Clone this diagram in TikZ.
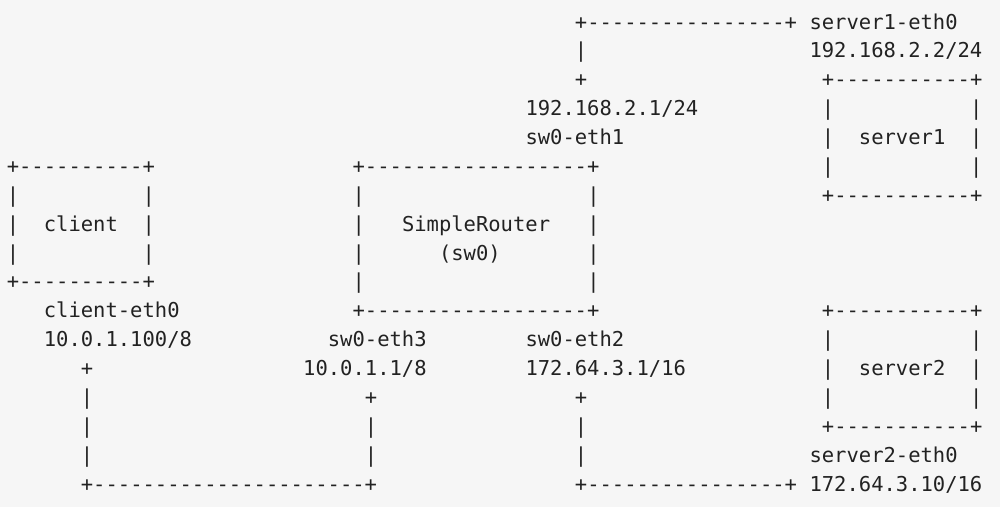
\documentclass[tikz,border=0pt]{standalone}
\usepackage{fontspec}
\setmonofont{DejaVu Sans Mono}
\definecolor{bg}{HTML}{F6F6F6}
\definecolor{ink}{HTML}{222222}
\tikzset{
  asc/.style={anchor=base west, inner sep=0pt, outer sep=0pt, text=ink,
              font=\ttfamily\fontsize{20.5pt}{24pt}\selectfont}
}
\begin{document}
\begin{tikzpicture}[x=12.35pt,y=-28.875pt]
\useasboundingbox[fill=bg] (-6.8pt,29pt) rectangle (993.2pt,-478pt);
% row 0
\node[asc] (l1top) at (46,0) {+----------------+};
\node[asc] (s1eth) at (65,0) {server1-eth0};
% row 1
\node[asc] (l1v) at (46,1) {|};
\node[asc] (s1ip) at (65,1) {192.168.2.2/24};
% row 2
\node[asc] (l1p) at (46,2) {+};
\node[asc] (s1t) at (66,2) {+-----------+};
% row 3
\node[asc] (e1ip) at (42,3) {192.168.2.1/24};
\node[asc] (s1a) at (66,3) {|};
\node[asc] (s1b) at (78,3) {|};
% row 4
\node[asc] (e1n) at (42,4) {sw0-eth1};
\node[asc] (s1c) at (66,4) {|};
\node[asc] (s1n) at (69,4) {server1};
\node[asc] (s1d) at (78,4) {|};
% row 5
\node[asc] (ct) at (0,5) {+----------+};
\node[asc] (rt) at (28,5) {+------------------+};
\node[asc] (s1e) at (66,5) {|};
\node[asc] (s1f) at (78,5) {|};
% row 6
\node[asc] (c1) at (0,6) {|};
\node[asc] (c2) at (11,6) {|};
\node[asc] (r1) at (28,6) {|};
\node[asc] (r2) at (47,6) {|};
\node[asc] (s1bot) at (66,6) {+-----------+};
% row 7
\node[asc] (c3) at (0,7) {|};
\node[asc] (cn) at (3,7) {client};
\node[asc] (c4) at (11,7) {|};
\node[asc] (r3) at (28,7) {|};
\node[asc] (rn) at (32,7) {SimpleRouter};
\node[asc] (r4) at (47,7) {|};
% row 8
\node[asc] (c5) at (0,8) {|};
\node[asc] (c6) at (11,8) {|};
\node[asc] (r5) at (28,8) {|};
\node[asc] (rs) at (35,8) {(sw0)};
\node[asc] (r6) at (47,8) {|};
% row 9
\node[asc] (cb) at (0,9) {+----------+};
\node[asc] (r7) at (28,9) {|};
\node[asc] (r8) at (47,9) {|};
% row 10
\node[asc] (ceth) at (3,10) {client-eth0};
\node[asc] (rb) at (28,10) {+------------------+};
\node[asc] (s2t) at (66,10) {+-----------+};
% row 11
\node[asc] (cip) at (3,11) {10.0.1.100/8};
\node[asc] (e3n) at (26,11) {sw0-eth3};
\node[asc] (e2n) at (42,11) {sw0-eth2};
\node[asc] (s2a) at (66,11) {|};
\node[asc] (s2b) at (78,11) {|};
% row 12
\node[asc] (l3p) at (6,12) {+};
\node[asc] (e3ip) at (24,12) {10.0.1.1/8};
\node[asc] (e2ip) at (42,12) {172.64.3.1/16};
\node[asc] (s2c) at (66,12) {|};
\node[asc] (s2n) at (69,12) {server2};
\node[asc] (s2d) at (78,12) {|};
% row 13
\node[asc] (l3a) at (6,13) {|};
\node[asc] (l3b) at (29,13) {+};
\node[asc] (l2a) at (46,13) {+};
\node[asc] (s2e) at (66,13) {|};
\node[asc] (s2f) at (78,13) {|};
% row 14
\node[asc] (l3c) at (6,14) {|};
\node[asc] (l3d) at (29,14) {|};
\node[asc] (l2b) at (46,14) {|};
\node[asc] (s2bot) at (66,14) {+-----------+};
% row 15
\node[asc] (l3e) at (6,15) {|};
\node[asc] (l3f) at (29,15) {|};
\node[asc] (l2c) at (46,15) {|};
\node[asc] (s2eth) at (65,15) {server2-eth0};
% row 16
\node[asc] (l3bot) at (6,16) {+----------------------+};
\node[asc] (l2bot) at (46,16) {+----------------+};
\node[asc] (s2ip) at (65,16) {172.64.3.10/16};
\end{tikzpicture}
\end{document}
